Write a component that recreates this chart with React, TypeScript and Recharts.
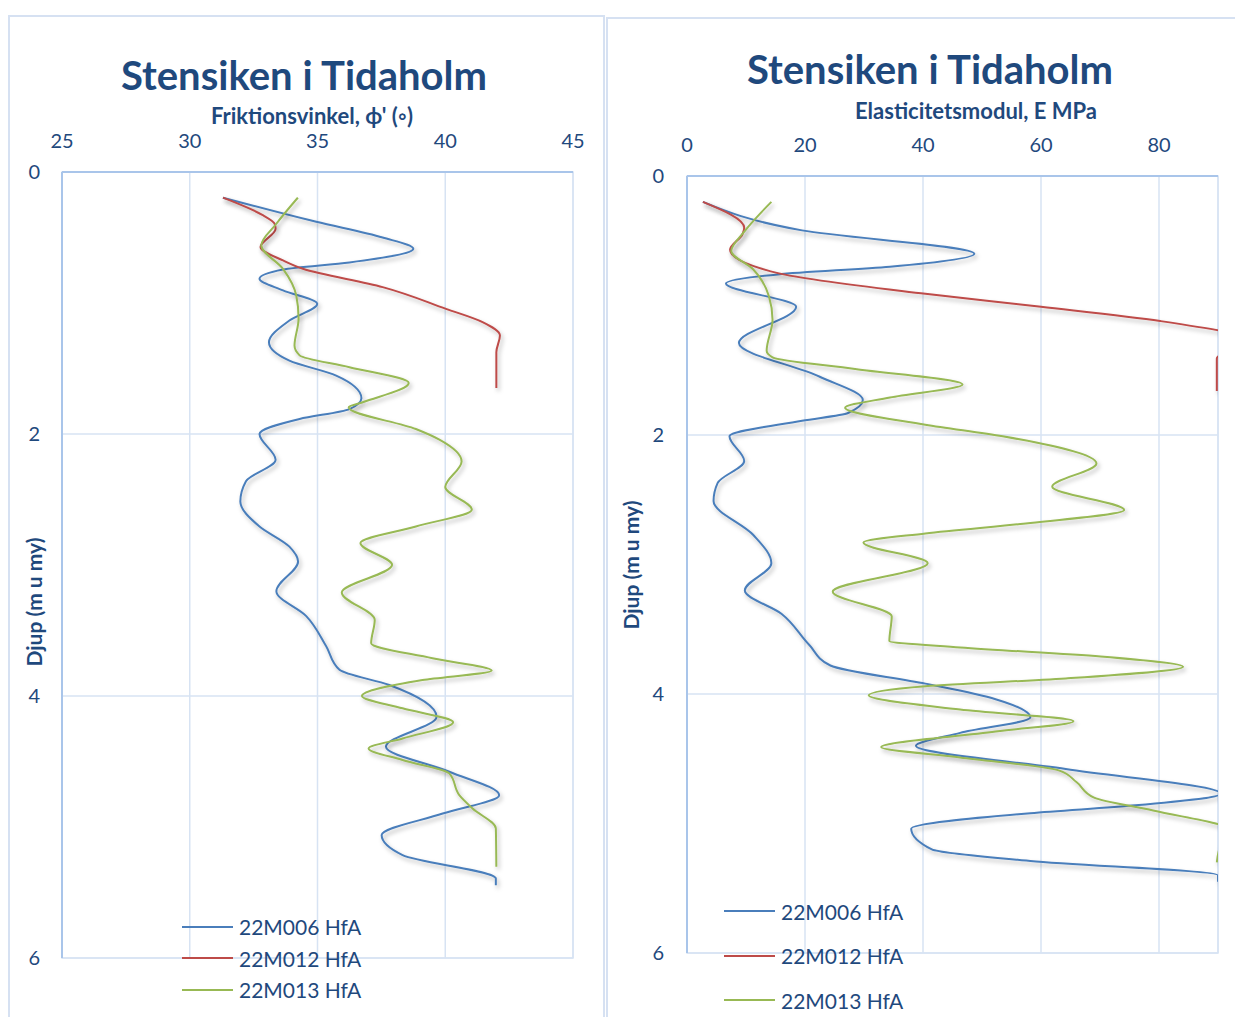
import React from 'react';
import { LineChart, Line, XAxis, YAxis, CartesianGrid, ReferenceArea, Label, Legend } from 'recharts';

// ---------- series names / colours ----------
const seriesNames = ['22M006 HfA', '22M012 HfA', '22M013 HfA'];
const seriesColors = ['#4A7EBB', '#BE4B48', '#98B954'];

// ---------- left chart: friction angle (deg) vs depth (m) ----------
const phiTicks = [25, 30, 35, 40, 45];
const depthTicks = [0, 2, 4, 6];

const phi006Depth = [0.196, 0.38, 0.5, 0.586, 0.69, 0.744, 0.815, 0.904, 1.006, 1.134, 1.3, 1.44, 1.554, 1.727, 1.81, 1.885, 2.0, 2.196, 2.36, 2.515, 2.706, 2.86, 2.973, 3.2, 3.39, 3.62, 3.8, 3.916, 4.158, 4.387, 4.578, 4.757, 4.897, 5.062, 5.215, 5.394, 5.445];
const phi006Value = [31.3, 34.95, 37.55, 38.75, 36.25, 33.65, 32.73, 33.65, 34.99, 33.9, 33.1, 33.9, 35.73, 36.72, 36.25, 34.3, 32.73, 33.36, 32.2, 31.98, 32.73, 33.9, 34.24, 33.39, 34.56, 35.34, 35.86, 37.81, 39.66, 37.68, 40.16, 42.11, 39.9, 37.51, 38.33, 41.98, 41.98];

const phi012Depth = [0.196, 0.33, 0.395, 0.433, 0.573, 0.675, 0.739, 0.879, 1.045, 1.146, 1.248, 1.376, 1.648];
const phi012Value = [31.3, 32.86, 33.32, 33.36, 32.77, 33.65, 34.43, 37.55, 40.03, 41.46, 42.14, 42.0, 42.0];

const phi013Depth = [0.196, 0.395, 0.56, 0.739, 0.943, 1.12, 1.325, 1.4, 1.49, 1.61, 1.758, 1.796, 1.962, 2.043, 2.209, 2.405, 2.578, 2.706, 2.833, 2.999, 3.21, 3.419, 3.597, 3.712, 3.806, 3.878, 4.0, 4.094, 4.2, 4.324, 4.4, 4.489, 4.591, 4.757, 4.859, 5.011, 5.304];
const phi013Value = [34.23, 33.39, 32.8, 33.65, 34.17, 34.26, 34.1, 34.3, 36.25, 38.57, 36.77, 36.22, 38.85, 39.77, 40.64, 40.0, 41.04, 38.85, 36.68, 37.92, 35.95, 37.24, 37.1, 39.5, 41.82, 39.11, 36.74, 38.33, 40.31, 38.33, 37.0, 38.33, 40.16, 40.55, 41.07, 41.98, 42.0];

// ---------- right chart: E modulus (MPa) vs depth (m) ----------
const eTicks = [0, 20, 40, 60, 80];

const e006Depth = [0.2, 0.42, 0.6, 0.7, 0.76, 0.83, 1.01, 1.29, 1.55, 1.73, 1.83, 1.89, 2.01, 2.2, 2.37, 2.51, 2.77, 2.99, 3.2, 3.38, 3.62, 3.78, 3.92, 4.04, 4.18, 4.3, 4.4, 4.58, 4.77, 4.86, 4.92, 5.04, 5.2, 5.29, 5.4, 5.45];
const e006Value = [2.7, 19.5, 48.7, 34.4, 15.4, 6.6, 18.5, 8.8, 22.5, 29.8, 27.3, 19.5, 7.2, 9.7, 5.2, 4.5, 11.2, 14.3, 9.8, 16.0, 20.7, 24.3, 40.4, 52.3, 58.2, 46.3, 38.8, 64.2, 90.5, 76.0, 58.2, 38.0, 41.5, 58.2, 90.0, 90.0];

const e012Depth = [0.2, 0.4, 0.45, 0.57, 0.75, 0.91, 1.01, 1.12, 1.27, 1.41, 1.66];
const e012Value = [2.7, 9.7, 9.4, 7.3, 15.4, 40.4, 60.0, 80.2, 95.0, 89.8, 89.8];

const e013Depth = [0.2, 0.43, 0.58, 0.72, 0.93, 1.11, 1.35, 1.4, 1.49, 1.61, 1.71, 1.79, 1.92, 2.01, 2.22, 2.4, 2.58, 2.68, 2.76, 2.83, 2.99, 3.21, 3.4, 3.59, 3.64, 3.71, 3.79, 3.88, 3.94, 4.01, 4.12, 4.21, 4.29, 4.41, 4.49, 4.59, 4.68, 4.8, 4.9, 5.05, 5.16, 5.3];
const e013Value = [14.3, 9.7, 7.5, 11.2, 13.9, 14.5, 13.5, 14.5, 28.5, 46.7, 34.4, 26.8, 40.4, 53.5, 69.4, 61.9, 74.1, 58.2, 40.4, 29.9, 40.8, 24.7, 34.7, 34.3, 46.3, 70.1, 84.1, 64.2, 40.4, 30.8, 46.3, 65.5, 52.3, 32.9, 46.3, 63.0, 66.0, 69.0, 79.0, 92.0, 90.5, 89.8];

const zip = (d: number[], v: number[]) => d.map((dd, i) => ({ d: dd, v: v[i] }));

const leftSeries = [zip(phi006Depth, phi006Value), zip(phi012Depth, phi012Value), zip(phi013Depth, phi013Value)];
const rightSeries = [zip(e006Depth, e006Value), zip(e012Depth, e012Value), zip(e013Depth, e013Value)];

const FONT = "Lato, 'Open Sans', 'DejaVu Sans', sans-serif";
const TEXT = '#1F497D';
const GRID = '#d7e3f3';
const AXIS = '#a9c5ea';

const tickStyle = { fill: TEXT, fontSize: 20, fontFamily: FONT };

const makeLegend = (rowH: number) => (props: any) => {
  const payload = props.payload || [];
  return (
    <div style={{ fontFamily: FONT, fontSize: 21, color: TEXT }}>
      {payload.map((p: any, i: number) => (
        <div key={i} style={{ display: 'flex', alignItems: 'center', height: rowH }}>
          <span style={{ display: 'inline-block', width: 51, height: 0, borderTop: `2px solid ${p.color}`, marginRight: 6 }} />
          <span>{p.value}</span>
        </div>
      ))}
    </div>
  );
};

const ShadowDefs = ({ id }: { id: string }) => (
  <defs>
    <filter id={id} x="-10%" y="-10%" width="120%" height="120%">
      <feDropShadow dx="2" dy="3" stdDeviation="2" floodColor="#000" floodOpacity="0.28" />
    </filter>
  </defs>
);

const LeftChart = () => (
  <LineChart width={610} height={1017} layout="vertical" margin={{ top: 142, right: 37, bottom: 59, left: 32 }}>
    <ShadowDefs id="shL" />
    <CartesianGrid stroke={GRID} strokeWidth={1.5} />
    <ReferenceArea x1={25} x2={45} y1={0} y2={6} fill="none" stroke={GRID} strokeWidth={1.5} />
    <XAxis
      type="number"
      orientation="top"
      domain={[25, 45]}
      ticks={phiTicks}
      height={30}
      tickSize={0}
      tickMargin={24}
      tickLine={false}
      axisLine={{ stroke: AXIS, strokeWidth: 2 }}
      tick={tickStyle}
      allowDataOverflow
    >
      <Label
        content={() => (
          <text x={312} y={124} textAnchor="middle" fill={TEXT} fontFamily={FONT} fontSize={22} fontWeight={700}>
            Friktionsvinkel, ϕ' (◦)
          </text>
        )}
      />
    </XAxis>
    <YAxis
      type="number"
      dataKey="d"
      domain={[0, 6]}
      ticks={depthTicks}
      width={30}
      tickSize={0}
      tickMargin={22}
      tickLine={false}
      axisLine={{ stroke: AXIS, strokeWidth: 2 }}
      tick={tickStyle}
      allowDataOverflow
    >
      <Label
        content={() => (
          <text x={42} y={602} textAnchor="middle" transform="rotate(-90 42 602)" fill={TEXT} fontFamily={FONT} fontSize={21} fontWeight={700}>
            Djup (m u my)
          </text>
        )}
      />
    </YAxis>
    {leftSeries.map((s, i) => (
      <Line
        key={i}
        data={s}
        dataKey="v"
        name={seriesNames[i]}
        type="monotone"
        stroke={seriesColors[i]}
        strokeWidth={2}
        dot={false}
        activeDot={false}
        isAnimationActive={false}
        filter="url(#shL)"
      />
    ))}
    <Legend
      layout="vertical"
      align="center"
      verticalAlign="middle"
      wrapperStyle={{ left: 182, top: 911, width: 240 }}
      content={makeLegend(31.5)}
    />
  </LineChart>
);

const RightChart = () => (
  <LineChart width={625} height={1017} layout="vertical" margin={{ top: 146, right: 17, bottom: 64, left: 47 }}>
    <ShadowDefs id="shR" />
    <CartesianGrid stroke={GRID} strokeWidth={1.5} />
    <ReferenceArea x1={0} x2={90} y1={0} y2={6} fill="none" stroke={GRID} strokeWidth={1.5} />
    <XAxis
      type="number"
      orientation="top"
      domain={[0, 90]}
      ticks={eTicks}
      height={30}
      tickSize={0}
      tickMargin={24}
      tickLine={false}
      axisLine={{ stroke: AXIS, strokeWidth: 2 }}
      tick={tickStyle}
      allowDataOverflow
    >
      <Label
        content={() => (
          <text x={366} y={119} textAnchor="middle" fill={TEXT} fontFamily={FONT} fontSize={22} fontWeight={700}>
            Elasticitetsmodul, E MPa
          </text>
        )}
      />
    </XAxis>
    <YAxis
      type="number"
      dataKey="d"
      domain={[0, 6]}
      ticks={depthTicks}
      width={30}
      tickSize={0}
      tickMargin={23}
      tickLine={false}
      axisLine={{ stroke: AXIS, strokeWidth: 2 }}
      tick={tickStyle}
      allowDataOverflow
    >
      <Label
        content={() => (
          <text x={29} y={565} textAnchor="middle" transform="rotate(-90 29 565)" fill={TEXT} fontFamily={FONT} fontSize={21} fontWeight={700}>
            Djup (m u my)
          </text>
        )}
      />
    </YAxis>
    {rightSeries.map((s, i) => (
      <Line
        key={i}
        data={s}
        dataKey="v"
        name={seriesNames[i]}
        type="monotone"
        stroke={seriesColors[i]}
        strokeWidth={2}
        dot={false}
        activeDot={false}
        isAnimationActive={false}
        filter="url(#shR)"
      />
    ))}
    <Legend
      layout="vertical"
      align="center"
      verticalAlign="middle"
      wrapperStyle={{ left: 114, top: 889, width: 240 }}
      content={makeLegend(44.5)}
    />
  </LineChart>
);

const titleStyle: React.CSSProperties = {
  position: 'absolute',
  fontFamily: FONT,
  fontWeight: 700,
  fontSize: 40,
  color: TEXT,
  whiteSpace: 'nowrap',
  transform: 'translate(-50%, -50%)',
  lineHeight: 1,
};

export default function App() {
  return (
    <div style={{ position: 'absolute', left: 0, top: 0, width: 1235, height: 1017, background: '#fff', overflow: 'hidden' }}>
      {/* panel frames */}
      <div style={{ position: 'absolute', left: 8, top: 15, width: 597, height: 1010, border: '2px solid #d6e1f2', boxSizing: 'border-box' }} />
      <div style={{ position: 'absolute', left: 606, top: 17, width: 640, height: 1010, border: '2px solid #d6e1f2', boxSizing: 'border-box' }} />
      <div style={{ position: 'absolute', left: 0, top: 0 }}>
        <LeftChart />
      </div>
      <div style={{ position: 'absolute', left: 610, top: 0 }}>
        <RightChart />
      </div>
      <div style={{ ...titleStyle, left: 304, top: 75 }}>Stensiken i Tidaholm</div>
      <div style={{ ...titleStyle, left: 930, top: 69 }}>Stensiken i Tidaholm</div>
    </div>
  );
}
